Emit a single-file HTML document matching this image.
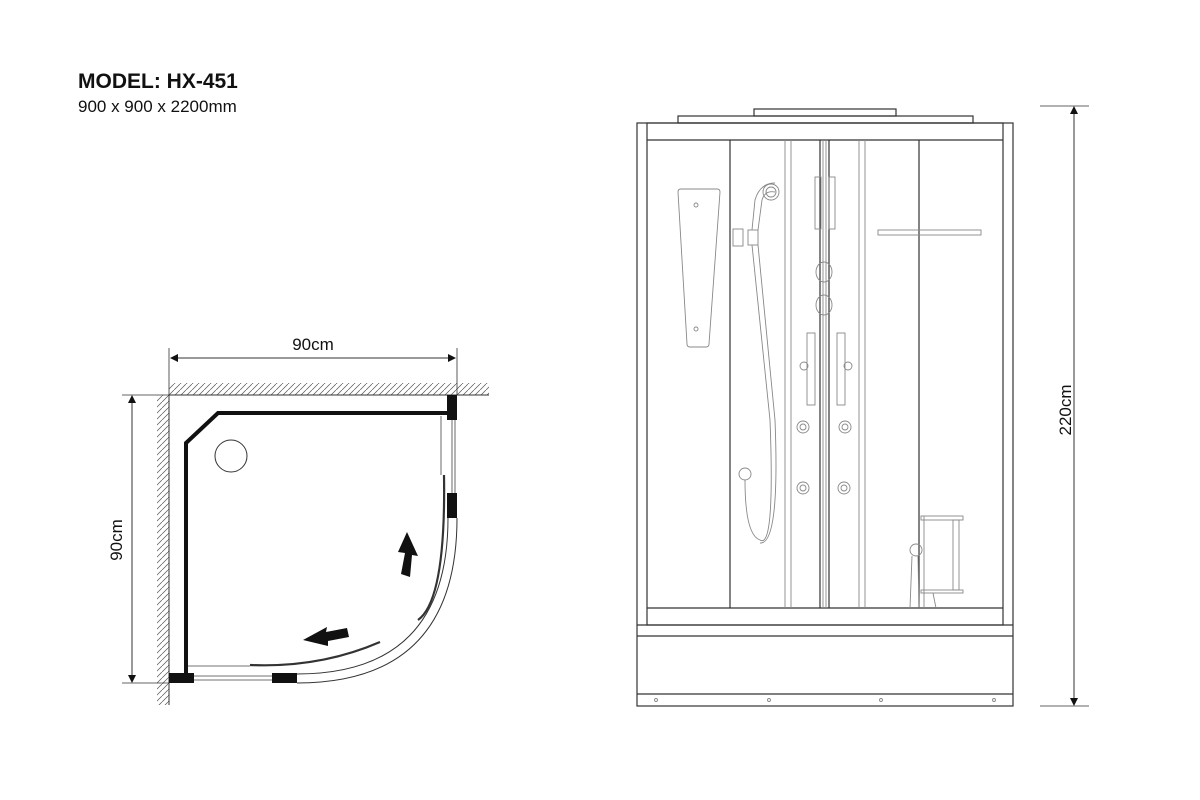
<!DOCTYPE html>
<html><head><meta charset="utf-8"><style>
html,body{margin:0;padding:0;background:#fff;}
svg{display:block;}
text{font-family:"Liberation Sans",Arial,sans-serif;fill:#111;}
</style></head><body>
<svg width="1200" height="800" viewBox="0 0 1200 800" xmlns="http://www.w3.org/2000/svg">
<defs>
<pattern id="hatch" width="6" height="6" patternUnits="userSpaceOnUse">
<line x1="0" y1="6" x2="6" y2="0" stroke="#555" stroke-width="0.7"/>
</pattern>
</defs>

<text x="78" y="88" font-size="21" font-weight="bold">MODEL: HX-451</text>
<text x="78" y="112" font-size="17">900 x 900 x 2200mm</text>

<!-- Plan view -->
<rect x="169" y="383" width="320" height="12" fill="url(#hatch)"/>
<line x1="169" y1="395" x2="489" y2="395" stroke="#333" stroke-width="1"/>
<rect x="157" y="395" width="12" height="310" fill="url(#hatch)"/>
<line x1="169" y1="395" x2="169" y2="705" stroke="#333" stroke-width="1"/>
<line x1="169" y1="348" x2="169" y2="395" stroke="#333" stroke-width="0.8"/>
<line x1="457" y1="348" x2="457" y2="395" stroke="#333" stroke-width="0.8"/>
<line x1="171" y1="358" x2="455" y2="358" stroke="#333" stroke-width="1"/>
<path d="M178,354 L170,358 L178,362 z" fill="#111"/>
<path d="M448,354 L456,358 L448,362 z" fill="#111"/>
<text x="313" y="350" font-size="17" text-anchor="middle">90cm</text>
<line x1="122" y1="395" x2="169" y2="395" stroke="#333" stroke-width="0.8"/>
<line x1="122" y1="683" x2="169" y2="683" stroke="#333" stroke-width="0.8"/>
<line x1="132" y1="397" x2="132" y2="681" stroke="#333" stroke-width="1"/>
<path d="M128,403 L132,395 L136,403 z" fill="#111"/>
<path d="M128,675 L132,683 L136,675 z" fill="#111"/>
<text transform="translate(122,540) rotate(-90)" font-size="17" text-anchor="middle">90cm</text>

<path d="M186,680 L186,443 L218,413 L448,413" fill="none" stroke="#111" stroke-width="4"/>
<circle cx="231" cy="456" r="16" fill="none" stroke="#333" stroke-width="1"/>
<line x1="441" y1="416" x2="441" y2="475" stroke="#444" stroke-width="0.8"/>
<line x1="452" y1="420" x2="452" y2="495" stroke="#444" stroke-width="0.8"/>
<line x1="455" y1="420" x2="455" y2="495" stroke="#444" stroke-width="0.8"/>
<path d="M457,518 Q457,683 297,683" fill="none" stroke="#333" stroke-width="1"/>
<path d="M448,518 Q448,674 297,674" fill="none" stroke="#333" stroke-width="1"/>
<path d="M444,475 Q446,600 418,620" fill="none" stroke="#333" stroke-width="2.2"/>
<path d="M441,475 Q443,600 415,618" fill="none" stroke="#fff" stroke-width="0.8"/>
<path d="M380,642 Q320,668 250,665" fill="none" stroke="#333" stroke-width="2.2"/>
<path d="M380,640 Q320,665 250,662" fill="none" stroke="#fff" stroke-width="0.8"/>
<line x1="188" y1="666" x2="250" y2="666" stroke="#444" stroke-width="0.8"/>
<line x1="194" y1="676" x2="272" y2="676" stroke="#444" stroke-width="0.8"/>
<line x1="194" y1="680" x2="272" y2="680" stroke="#444" stroke-width="0.8"/>
<rect x="447" y="395" width="10" height="25" fill="#111"/>
<rect x="447" y="493" width="10" height="25" fill="#111"/>
<rect x="169" y="673" width="25" height="10" fill="#111"/>
<rect x="272" y="673" width="25" height="10" fill="#111"/>
<path d="M407,532 L418,556 L412,555 L410,577 L401,574 L405,553 L398,552 z" fill="#111"/>
<path d="M303,640 L327,627 L326,632 L347,628 L349,637 L328,641 L328,646 z" fill="#111"/>

<!-- Front elevation -->
<g fill="none" stroke="#333" stroke-width="1.2">
<rect x="754" y="109" width="142" height="7"/>
<rect x="678" y="116" width="295" height="7"/>
<rect x="637" y="123" width="376" height="583"/>
<rect x="647" y="123" width="356" height="502"/>
<line x1="647" y1="140" x2="1003" y2="140"/>
<line x1="647" y1="608" x2="1003" y2="608"/>
<line x1="637" y1="625" x2="1013" y2="625"/>
<line x1="637" y1="636" x2="1013" y2="636"/>
<line x1="637" y1="694" x2="1013" y2="694"/>
<line x1="730" y1="140" x2="730" y2="608"/>
<line x1="919" y1="140" x2="919" y2="608"/>
<line x1="820" y1="140" x2="820" y2="608"/>
<line x1="829" y1="140" x2="829" y2="608"/>
</g>
<g fill="none" stroke="#888" stroke-width="0.9">
<line x1="785" y1="140" x2="785" y2="608"/>
<line x1="791" y1="140" x2="791" y2="608"/>
<line x1="859" y1="140" x2="859" y2="608"/>
<line x1="865" y1="140" x2="865" y2="608"/>
<line x1="823" y1="140" x2="823" y2="608"/>
<line x1="826" y1="140" x2="826" y2="608"/>
<path d="M681,189 L717,189 Q720,189 720,192 L709,344 Q709,347 706,347 L690,347 Q687,347 687,344 L678,192 Q678,189 681,189 z"/>
<circle cx="696" cy="205" r="2"/><circle cx="696" cy="329" r="2"/>
<path d="M775,183 Q760,183 755,200 L752,230 M758,230 L762,200 Q765,190 775,192"/>
<circle cx="771" cy="192" r="8"/><circle cx="771" cy="192" r="5"/>
<rect x="733" y="229" width="10" height="17"/><rect x="748" y="230" width="10" height="15"/>
<path d="M752,245 L770,420 Q775,550 760,540 Q745,535 745,480 M758,245 L775,420 Q780,545 760,543"/>
<circle cx="745" cy="474" r="6"/>
<rect x="815" y="177" width="6" height="52"/><rect x="829" y="177" width="6" height="52"/>
<ellipse cx="824" cy="272" rx="8" ry="10"/><ellipse cx="824" cy="305" rx="8" ry="10"/>
<rect x="807" y="333" width="8" height="72"/><rect x="837" y="333" width="8" height="72"/>
<circle cx="804" cy="366" r="4"/><circle cx="848" cy="366" r="4"/>
<circle cx="803" cy="427" r="6"/><circle cx="845" cy="427" r="6"/>
<circle cx="803" cy="488" r="6"/><circle cx="844" cy="488" r="6"/>
<circle cx="803" cy="427" r="3"/><circle cx="845" cy="427" r="3"/>
<circle cx="803" cy="488" r="3"/><circle cx="844" cy="488" r="3"/>
<rect x="878" y="230" width="103" height="5"/>
<rect x="921" y="516" width="42" height="4"/><rect x="921" y="590" width="42" height="3"/>
<rect x="953" y="520" width="6" height="70"/>
<line x1="924" y1="516" x2="924" y2="608"/>
<circle cx="916" cy="550" r="6"/>
<path d="M912,556 L910,608 M918,556 L919,608 M933,593 L936,608"/>
<circle cx="656" cy="700" r="1.5"/><circle cx="769" cy="700" r="1.5"/>
<circle cx="881" cy="700" r="1.5"/><circle cx="994" cy="700" r="1.5"/>
</g>

<line x1="1040" y1="106" x2="1089" y2="106" stroke="#333" stroke-width="0.8"/>
<line x1="1040" y1="706" x2="1089" y2="706" stroke="#333" stroke-width="0.8"/>
<line x1="1074" y1="108" x2="1074" y2="704" stroke="#333" stroke-width="1"/>
<path d="M1070,114 L1074,106 L1078,114 z" fill="#111"/>
<path d="M1070,698 L1074,706 L1078,698 z" fill="#111"/>
<text transform="translate(1071,410) rotate(-90)" font-size="17" text-anchor="middle">220cm</text>
</svg>
</body></html>
